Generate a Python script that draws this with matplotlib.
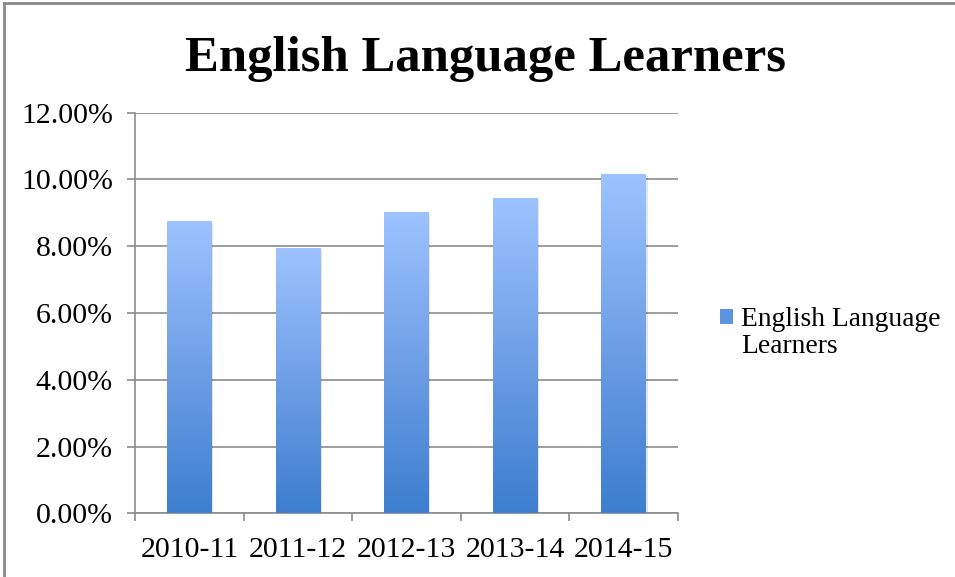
import numpy as np
import matplotlib
matplotlib.use("Agg")
import matplotlib.pyplot as plt
from matplotlib.colors import LinearSegmentedColormap
from matplotlib.patches import Rectangle
from matplotlib.legend_handler import HandlerPatch
from matplotlib.lines import Line2D
from matplotlib.ticker import FuncFormatter, MultipleLocator

years = ["2010-11", "2011-12", "2012-13", "2013-14", "2014-15"]
ell_pct = [8.72, 7.92, 8.99, 9.41, 10.13]
series_name = "English Language\nLearners"
title = "English Language Learners"

plt.rcParams['font.family'] = ['Liberation Serif', 'DejaVu Serif']

grad = LinearSegmentedColormap.from_list("bargrad", ["#3D7ECF", "#6E9FE6", "#9DC3FF"])
gridc = "#8C8C8C"

fig = plt.figure(figsize=(9.55, 5.77), dpi=100)
ax = fig.add_axes([0.1414, 0.1104, 0.5686, 0.6943])

x = np.arange(len(years))
bars = ax.bar(x, ell_pct, width=0.41, color="none", zorder=3)

ramp = np.linspace(0, 1, 256).reshape(-1, 1)
for b in bars:
    x0, w, h = b.get_x(), b.get_width(), b.get_height()
    # soft shadow
    ax.add_patch(Rectangle((x0 + 0.015, 0), w, h - 0.04, facecolor="#000000",
                           alpha=0.10, edgecolor="none", zorder=2))
    ax.imshow(ramp, cmap=grad, extent=(x0, x0 + w, 0, h), origin="lower",
              aspect="auto", zorder=3, interpolation="bilinear")

ax.set_xlim(-0.5, len(years) - 0.5)
ax.set_ylim(0, 12)
ax.yaxis.set_major_locator(MultipleLocator(2))
ax.yaxis.set_major_formatter(FuncFormatter(lambda v, p: "%.2f%%" % v))
ax.grid(axis="y", color=gridc, linewidth=1.2, zorder=1)

ax.set_xticks(x)
ax.set_xticklabels(years)
ax.set_xticks(np.arange(len(years) + 1) - 0.5, minor=True)
ax.tick_params(axis="x", which="major", length=0, pad=17, labelsize=21.5)
ax.tick_params(axis="x", which="minor", length=6, width=1.2, color=gridc, direction="out")
ax.tick_params(axis="y", length=6, width=1.2, color=gridc, pad=10, labelsize=21.5)

for s in ["top", "right"]:
    ax.spines[s].set_visible(False)
for s in ["left", "bottom"]:
    ax.spines[s].set_color(gridc)
    ax.spines[s].set_linewidth(1.2)

fig.text(0.508, 0.898, title, ha="center", va="center", fontsize=36.5, fontweight="bold")


def top_square(legend, orig_handle, xdescent, ydescent, width, height, fontsize):
    return Rectangle((-xdescent, -ydescent + 0.6 * fontsize), width, height)


leg_handle = Rectangle((0, 0), 1, 1, facecolor="#5E93E0", edgecolor="none")
leg = fig.legend([leg_handle], [series_name], loc="center left",
                 bbox_to_anchor=(0.754, 0.423), frameon=False, fontsize=19.8,
                 handlelength=0.47, handleheight=0.47, handletextpad=0.3,
                 borderaxespad=0, borderpad=0,
                 handler_map={Rectangle: HandlerPatch(patch_func=top_square)})
for t in leg.get_texts():
    t.set_linespacing(1.08)

# outer chart border (left and top)
fig.add_artist(Line2D([0.004, 0.004], [0.0, 0.995], transform=fig.transFigure,
                      color="#8A8A8A", linewidth=2))
fig.add_artist(Line2D([0.004, 1.0], [0.995, 0.995], transform=fig.transFigure,
                      color="#8A8A8A", linewidth=2))

fig.savefig("out.png", dpi=100)
